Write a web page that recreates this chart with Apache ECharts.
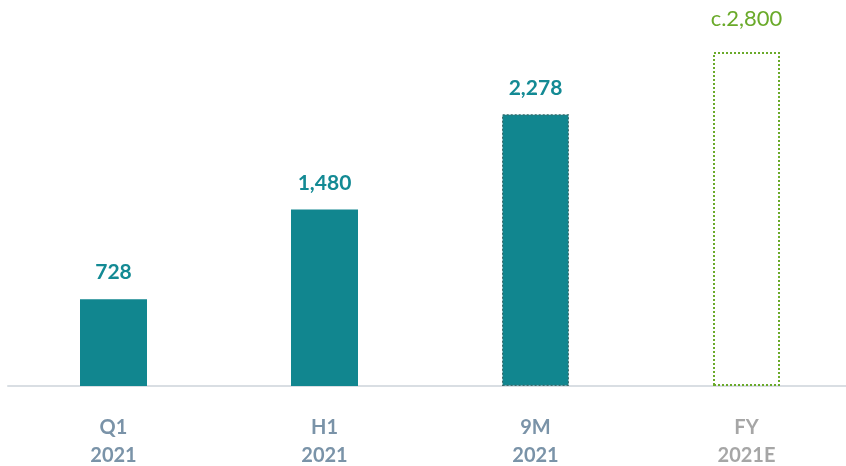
<!DOCTYPE html>
<html><head><meta charset="utf-8">
<script src="https://cdn.jsdelivr.net/npm/echarts@6/dist/echarts.min.js"></script>
<style>html,body{margin:0;padding:0;background:#fff}#c{width:846px;height:466px}</style>
</head><body><div id="c"></div>
<script>
var categories = ['Q1\n2021', 'H1\n2021', '9M\n2021', 'FY\n2021E'];
var values = [728, 1480, 2278, 2800];
var valueLabels = ['728', '1,480', '2,278', 'c.2,800'];

var teal = '#11868F';
var green = '#6AAA2A';
var font = 'Lato';

var data = values.map(function (v, i) {
  var item = { value: v };
  if (i === 2) {
    item.itemStyle = { color: teal, borderColor: '#3d6b6b', borderWidth: 1.2, borderType: [2, 2] };
  }
  if (i === 3) {
    item.itemStyle = { color: '#ffffff', borderColor: green, borderWidth: 2, borderType: [2, 2] };
    item.label = { color: green, fontWeight: 'normal', fontSize: 22, distance: 22 };
  }
  return item;
});

var chart = echarts.init(document.getElementById('c'), null, { renderer: 'canvas' });
chart.setOption({
  animation: false,
  grid: { left: 8, right: -6, top: 52, bottom: 80, containLabel: false, outerBoundsMode: 'none' },
  xAxis: {
    type: 'category',
    data: categories,
    axisLine: { lineStyle: { color: '#D9DEE3', width: 2 } },
    axisTick: { show: false },
    axisLabel: {
      margin: 28,
      fontFamily: font,
      fontWeight: 'bold',
      fontSize: 20,
      lineHeight: 28,
      color: function (v, i) { return i === 3 ? '#A6A6A6' : '#7A93A8'; }
    }
  },
  yAxis: { type: 'value', min: 0, max: 2800, show: false, splitLine: { show: false } },
  series: [{
    type: 'bar',
    data: data,
    barWidth: 67,
    itemStyle: { color: teal },
    label: {
      show: true,
      position: 'top',
      distance: 16,
      fontFamily: font,
      fontWeight: 'bold',
      fontSize: 21,
      color: '#138A94',
      formatter: function (p) { return valueLabels[p.dataIndex]; }
    }
  }]
});
</script>
</body></html>
